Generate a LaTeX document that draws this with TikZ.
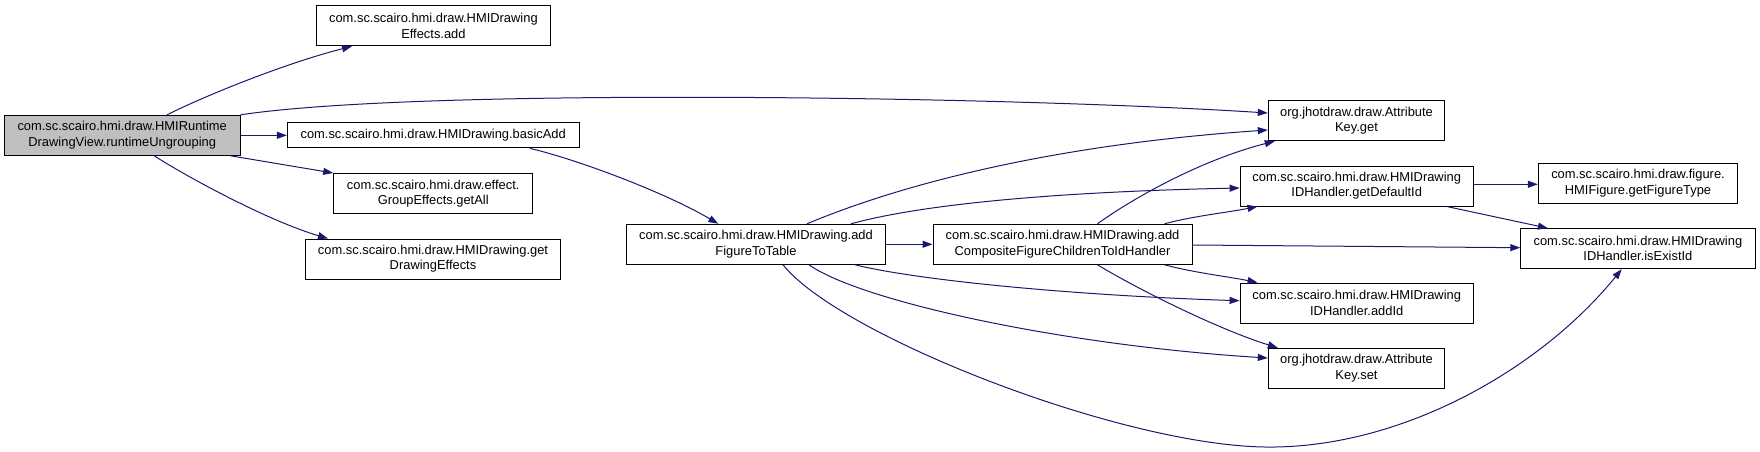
\documentclass[tikz,border=0pt]{standalone}
\usepackage{fontspec}
\setmainfont{Liberation Sans}
\usetikzlibrary{arrows.meta}
\definecolor{edgeblue}{HTML}{191970}
\definecolor{rootgrey}{HTML}{BFBFBF}
\begin{document}
\begin{tikzpicture}[x=1pt,y=-1pt,
  nbox/.style={draw=black, line width=1pt, fill=white, inner sep=0pt,
    minimum height=40pt, align=center,
    font=\fontsize{12.9pt}{15.3pt}\selectfont},
  call/.style={draw=edgeblue, line width=1pt,
    -{Triangle[length=10pt,width=7pt]}, fill=none}]
\useasboundingbox (0,0) rectangle (1760,452);

% nodes
\node[nbox, fill=rootgrey, minimum width=235.7pt] (root) at (122.2,135.3)
  {com.sc.scairo.hmi.draw.HMIRuntime\\DrawingView.runtimeUngrouping};
\node[nbox, minimum width=234pt] (eadd) at (433.4,25.8)
  {com.sc.scairo.hmi.draw.HMIDrawing\\Effects.add};
\node[nbox, minimum width=291.6pt, minimum height=25.3pt] (basic) at (433.2,135.3)
  {com.sc.scairo.hmi.draw.HMIDrawing.basicAdd};
\node[nbox, minimum width=199pt] (getall) at (433.2,193.5)
  {com.sc.scairo.hmi.draw.effect.\\GroupEffects.getAll};
\node[nbox, minimum width=255pt] (getde) at (433,259)
  {com.sc.scairo.hmi.draw.HMIDrawing.get\\DrawingEffects};
\node[nbox, minimum width=258.7pt] (aft) at (756,244.3)
  {com.sc.scairo.hmi.draw.HMIDrawing.add\\FigureToTable};
\node[nbox, minimum width=259pt] (acf) at (1062.5,244.3)
  {com.sc.scairo.hmi.draw.HMIDrawing.add\\CompositeFigureChildrenToIdHandler};
\node[nbox, minimum width=176.4pt] (akget) at (1356.5,120.7)
  {org.jhotdraw.draw.Attribute\\Key.get};
\node[nbox, minimum width=233.3pt] (gdi) at (1356.7,186)
  {com.sc.scairo.hmi.draw.HMIDrawing\\IDHandler.getDefaultId};
\node[nbox, minimum width=233.3pt] (addid) at (1356.7,303)
  {com.sc.scairo.hmi.draw.HMIDrawing\\IDHandler.addId};
\node[nbox, minimum width=176.4pt] (akset) at (1356.5,368.3)
  {org.jhotdraw.draw.Attribute\\Key.set};
\node[nbox, minimum width=199.4pt] (gft) at (1638,183.3)
  {com.sc.scairo.hmi.draw.figure.\\HMIFigure.getFigureType};
\node[nbox, minimum width=234.3pt] (iei) at (1637.9,248.7)
  {com.sc.scairo.hmi.draw.HMIDrawing\\IDHandler.isExistId};

% edges from root
\draw[call] ([xshift=44.8pt]root.north) .. controls +(38,-19) and +(-67,17) .. ([xshift=-81.4pt]eadd.south);
\draw[call] (root.north east) .. controls +(180,-27) and +(-268,-17) .. ([yshift=7.7pt]akget.west);
\draw[call] (root.east) -- (basic.west);
\draw[call] ([xshift=-10pt]root.south east) -- (getall.north west);
\draw[call] ([xshift=32pt]root.south) .. controls +(36,23) and +(-58,-17) .. ([xshift=-105pt]getde.north);

% basicAdd
\draw[call] ([xshift=96.8pt]basic.south) .. controls +(40,9) and +(-58,-34) .. ([xshift=-37.7pt]aft.north);

% addFigureToTable
\draw[call] ([xshift=51pt]aft.north) .. controls +(93,-39) and +(-218,15) .. ([yshift=-9.3pt]akget.west);
\draw[call] ([xshift=95pt]aft.north) .. controls +(69,-19) and +(-190,4) .. ([yshift=-2pt]gdi.west);
\draw[call] (aft.east) -- (acf.west);
\draw[call] ([xshift=27pt]aft.south) .. controls +(57,71) and (1120,445) .. (1265,447)
  .. controls (1400,449) and +(-82,101) .. ([xshift=-16.2pt]iei.south);
\draw[call] ([xshift=99pt]aft.south) .. controls +(65,16) and +(-160,-5) .. ([yshift=2.3pt]addid.west);
\draw[call] ([xshift=53pt]aft.south) .. controls +(51,36) and +(-208,-13) .. ([yshift=10.3pt]akset.west);

% addCompositeFigureChildrenToIdHandler
\draw[call] ([xshift=35pt]acf.north) .. controls +(33,-24) and +(-75,19) .. ([xshift=7pt]akget.south west);
\draw[call] ([xshift=102pt]acf.north) .. controls +(30,-8) and +(-30,6) .. ([xshift=18pt]gdi.south west);
\draw[call] ([yshift=-0.7pt]acf.east) -- ([yshift=1pt]iei.west);
\draw[call] ([xshift=102pt]acf.south) .. controls +(30,8) and +(-30,-6) .. ([xshift=18pt]addid.north west);
\draw[call] ([xshift=35pt]acf.south) .. controls +(43,26) and +(-58,-18) .. ([xshift=10pt]akset.north west);

% getDefaultId
\draw[call] ([yshift=1.7pt]gdi.east) -- ([yshift=-1pt]gft.west);
\draw[call] ([xshift=90pt]gdi.south) -- ([xshift=-90pt]iei.north);
\end{tikzpicture}
\end{document}
